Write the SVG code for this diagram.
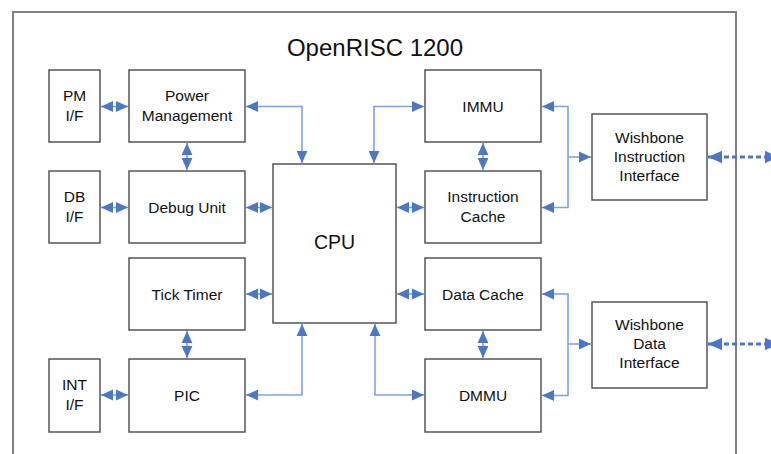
<svg xmlns="http://www.w3.org/2000/svg" width="771" height="454" viewBox="0 0 771 454">
<style>
.box{fill:#fff;stroke:#555;stroke-width:1.5}
.frame{fill:#fff;stroke:#808080;stroke-width:2}
text{font-family:"Liberation Sans",Arial,sans-serif;fill:#111;text-anchor:middle}
.lbl{font-size:15.5px}
.con{fill:none;stroke:#7fa2dc;stroke-width:1.6;marker-start:url(#ah);marker-end:url(#ah)}
.one{fill:none;stroke:#7fa2dc;stroke-width:1.6;marker-end:url(#ah)}
.dash{fill:none;stroke:#4a78c6;stroke-width:3;stroke-dasharray:5 3;marker-start:url(#ahb);marker-end:url(#ahb)}
</style>
<defs>
<marker id="ah" markerUnits="userSpaceOnUse" markerWidth="12" markerHeight="12" viewBox="0 0 10 10" refX="10" refY="5" orient="auto-start-reverse">
<path d="M0,0.5 L10,5 L0,9.5 z" fill="#4a78c6"/>
</marker>
<marker id="ahb" markerUnits="userSpaceOnUse" markerWidth="14" markerHeight="14" viewBox="0 0 10 10" refX="10" refY="5" orient="auto-start-reverse">
<path d="M0,0.5 L10,5 L0,9.5 z" fill="#4a78c6"/>
</marker>
</defs>
<rect width="771" height="454" fill="#fff"/>
<rect class="frame" x="13" y="12" width="723" height="470"/>
<text x="375" y="56" style="font-size:24px">OpenRISC 1200</text>

<g id="pmif"><rect class="box" x="49" y="70" width="51" height="72"/><text class="lbl" x="74.5" y="101">PM</text><text class="lbl" x="74.5" y="120.5">I/F</text></g>
<g id="power"><rect class="box" x="129" y="70" width="116" height="72"/><text class="lbl" x="187" y="101">Power</text><text class="lbl" x="187" y="120.5">Management</text></g>
<g id="dbif"><rect class="box" x="49" y="171" width="51" height="72"/><text class="lbl" x="74.5" y="202">DB</text><text class="lbl" x="74.5" y="221.5">I/F</text></g>
<g id="debug"><rect class="box" x="129" y="171" width="116" height="72"/><text class="lbl" x="187" y="212.5">Debug Unit</text></g>
<g id="tick"><rect class="box" x="129" y="258" width="116" height="72"/><text class="lbl" x="187" y="299.5">Tick Timer</text></g>
<g id="intif"><rect class="box" x="49" y="359" width="51" height="73"/><text class="lbl" x="74.5" y="390">INT</text><text class="lbl" x="74.5" y="409.5">I/F</text></g>
<g id="pic"><rect class="box" x="129" y="359" width="116" height="73"/><text class="lbl" x="187" y="400.5">PIC</text></g>
<g id="cpu"><rect class="box" x="273" y="164" width="123" height="159"/><text x="334.5" y="249" style="font-size:19.5px">CPU</text></g>
<g id="immu"><rect class="box" x="425" y="70" width="116" height="72"/><text class="lbl" x="483" y="111.5">IMMU</text></g>
<g id="icache"><rect class="box" x="425" y="171" width="116" height="72"/><text class="lbl" x="483" y="202">Instruction</text><text class="lbl" x="483" y="221.5">Cache</text></g>
<g id="dcache"><rect class="box" x="425" y="258" width="116" height="72"/><text class="lbl" x="483" y="299.5">Data Cache</text></g>
<g id="dmmu"><rect class="box" x="425" y="359" width="116" height="73"/><text class="lbl" x="483" y="400.5">DMMU</text></g>
<g id="wbi"><rect class="box" x="592" y="114" width="115" height="86"/><text class="lbl" x="649.5" y="143">Wishbone</text><text class="lbl" x="649.5" y="162">Instruction</text><text class="lbl" x="649.5" y="181">Interface</text></g>
<g id="wbd"><rect class="box" x="592" y="302" width="115" height="86"/><text class="lbl" x="649.5" y="330">Wishbone</text><text class="lbl" x="649.5" y="349">Data</text><text class="lbl" x="649.5" y="368">Interface</text></g>

<g id="connectors">
<path class="con" d="M101,106.5 H128"/>
<path class="con" d="M187,143 V170"/>
<path class="con" d="M246,106.5 H302 V163"/>
<path class="con" d="M101,207.5 H128"/>
<path class="con" d="M246,207.5 H272"/>
<path class="con" d="M246,294 H272"/>
<path class="con" d="M187,331 V358"/>
<path class="con" d="M101,395 H128"/>
<path class="con" d="M246,395 H302 V324"/>
<path class="con" d="M374,163 V106.5 H424"/>
<path class="con" d="M397,207.5 H424"/>
<path class="con" d="M483,143 V170"/>
<path class="con" d="M397,294 H424"/>
<path class="con" d="M483,331 V358"/>
<path class="con" d="M375,324 V395 H424"/>
<path class="con" d="M542,106.5 H568 V207.5 H542"/>
<path class="one" d="M568,157 H591"/>
<path class="con" d="M542,294 H568 V395.5 H542"/>
<path class="one" d="M568,344 H591"/>
<path class="dash" d="M708,157 H779"/>
<path class="dash" d="M708,344 H779"/>
</g>
</svg>
